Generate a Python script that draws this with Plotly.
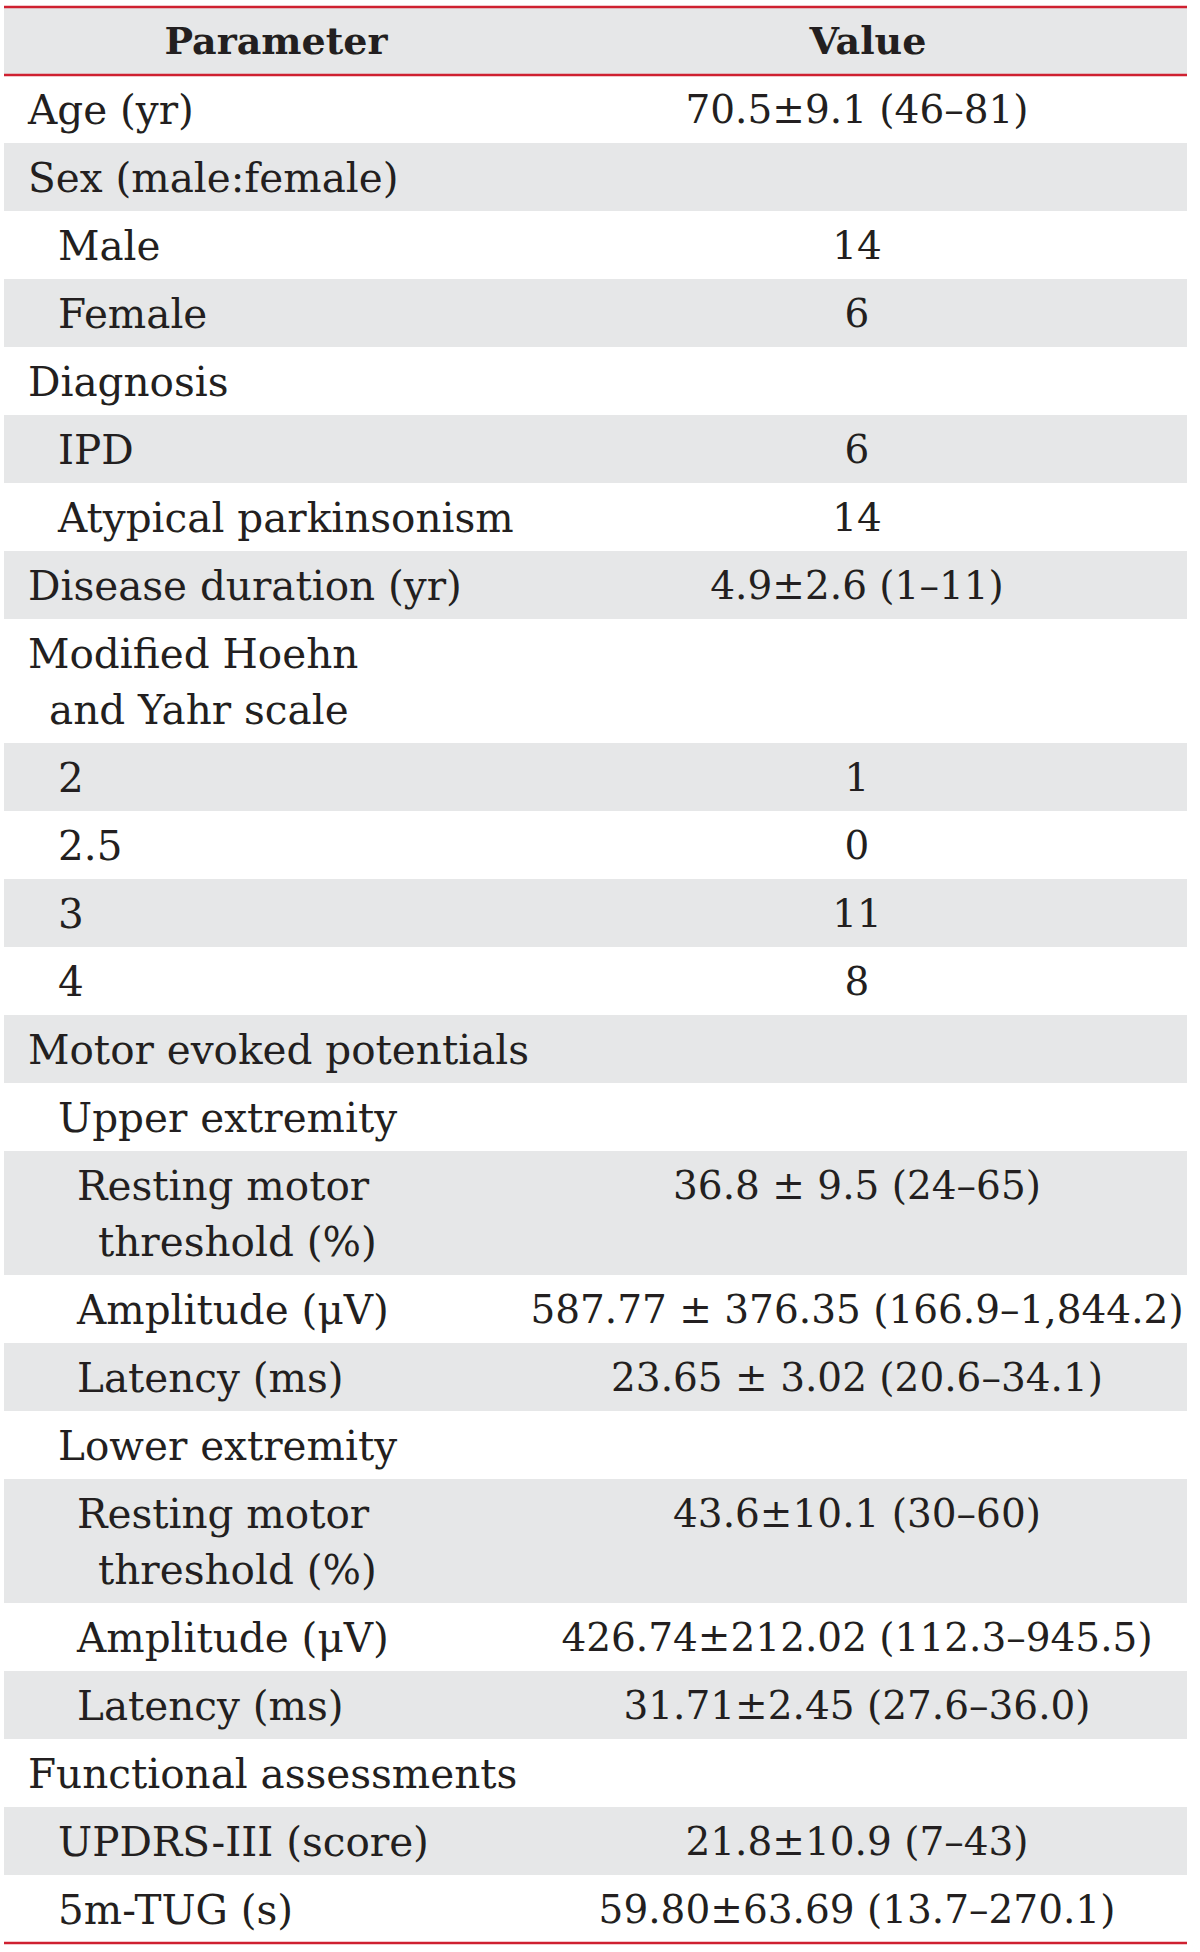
import plotly.graph_objects as go

# ---- data ----
header = ["Parameter", "Value"]
params = [
    "Age (yr)", "Sex (male:female)", "Male", "Female", "Diagnosis", "IPD",
    "Atypical parkinsonism", "Disease duration (yr)", "Modified Hoehn\nand Yahr scale",
    "2", "2.5", "3", "4", "Motor evoked potentials", "Upper extremity",
    "Resting motor\nthreshold (%)", "Amplitude (μV)", "Latency (ms)", "Lower extremity",
    "Resting motor\nthreshold (%)", "Amplitude (μV)", "Latency (ms)",
    "Functional assessments", "UPDRS-III (score)", "5m-TUG (s)",
]
levels = [0, 0, 1, 1, 0, 1, 1, 0, 0, 1, 1, 1, 1, 0, 1, 2, 2, 2, 1, 2, 2, 2, 0, 1, 1]
values = [
    "70.5±9.1 (46–81)", "", "14", "6", "", "6", "14", "4.9±2.6 (1–11)", "",
    "1", "0", "11", "8", "", "",
    "36.8 ± 9.5 (24–65)", "587.77 ± 376.35 (166.9–1,844.2)", "23.65 ± 3.02 (20.6–34.1)", "",
    "43.6±10.1 (30–60)", "426.74±212.02 (112.3–945.5)", "31.71±2.45 (27.6–36.0)",
    "", "21.8±10.9 (7–43)", "59.80±63.69 (13.7–270.1)",
]

# ---- layout constants ----
W, H = 1200, 1952
LEFT, RIGHT = 4, 1187
TOP = 7
HEAD_H = 68
ROW_H = 68
ROW2_H = 124
LINE_GAP = 56
TEXT_DY = 4.5
INDENT = {0: 28, 1: 58, 2: 77}
CONT = 21
VAL_X = 857
HEAD_X = [276, 868]
GRAY = "#E6E7E8"
RED = "#CF2030"
TXT = "#231F20"
FONT = "DejaVu Serif"
FS_P = 40.5
FS_V = 39

# compute row geometry
tops, heights = [], []
y = TOP + HEAD_H
for p in params:
    h = ROW2_H if "\n" in p else ROW_H
    tops.append(y)
    heights.append(h)
    y += h
bottom = y

fig = go.Figure()

# backgrounds (header + body rows)
bar_y = [TOP + HEAD_H / 2] + [t + h / 2 for t, h in zip(tops, heights)]
bar_w = [HEAD_H] + heights
bar_c = [GRAY] + [GRAY if i % 2 == 1 else "rgba(0,0,0,0)" for i in range(len(params))]
fig.add_trace(go.Bar(
    y=bar_y, x=[RIGHT - LEFT] * len(bar_y), base=[LEFT] * len(bar_y),
    width=bar_w, orientation="h", marker=dict(color=bar_c, line=dict(width=0)),
    hoverinfo="skip", showlegend=False,
))

# parameter texts
px, py, pt = [], [], []
vx, vy, vt = [], [], []
for p, lv, v, t, h in zip(params, levels, values, tops, heights):
    lines = p.split("\n")
    c = t + h / 2 + TEXT_DY
    if len(lines) == 1:
        px.append(INDENT[lv]); py.append(c); pt.append(lines[0])
        vy.append(c)
    else:
        px.append(INDENT[lv]); py.append(c - LINE_GAP / 2); pt.append(lines[0])
        px.append(INDENT[lv] + CONT); py.append(c + LINE_GAP / 2); pt.append(lines[1])
        vy.append(c - LINE_GAP / 2)
    vx.append(VAL_X); vt.append(v)

fig.add_trace(go.Scatter(
    x=px, y=py, text=pt, mode="text", textposition="middle right",
    textfont=dict(family=FONT, size=FS_P, color=TXT), hoverinfo="skip", showlegend=False,
))
fig.add_trace(go.Scatter(
    x=vx, y=vy, text=vt, mode="text", textposition="middle center",
    textfont=dict(family=FONT, size=FS_V, color=TXT), hoverinfo="skip", showlegend=False,
))
fig.add_trace(go.Scatter(
    x=HEAD_X, y=[TOP + HEAD_H / 2 + TEXT_DY - 1] * 2, text=[f"<b>{h}</b>" for h in header],
    mode="text", textposition="middle center",
    textfont=dict(family=FONT, size=38, color=TXT), hoverinfo="skip", showlegend=False,
))

# red rules
for yy in (TOP, TOP + HEAD_H, bottom):
    fig.add_shape(type="line", x0=LEFT, x1=RIGHT, y0=yy, y1=yy,
                  line=dict(color=RED, width=2.5), layer="above")

fig.update_layout(
    width=W, height=H, margin=dict(l=0, r=0, t=0, b=0),
    paper_bgcolor="white", plot_bgcolor="white", bargap=0,
    xaxis=dict(range=[0, W], visible=False, fixedrange=True),
    yaxis=dict(range=[H, 0], visible=False, fixedrange=True),
)
fig.write_html("out.html", config={"displayModeBar": False},
               post_script="document.body.style.margin='0';")
